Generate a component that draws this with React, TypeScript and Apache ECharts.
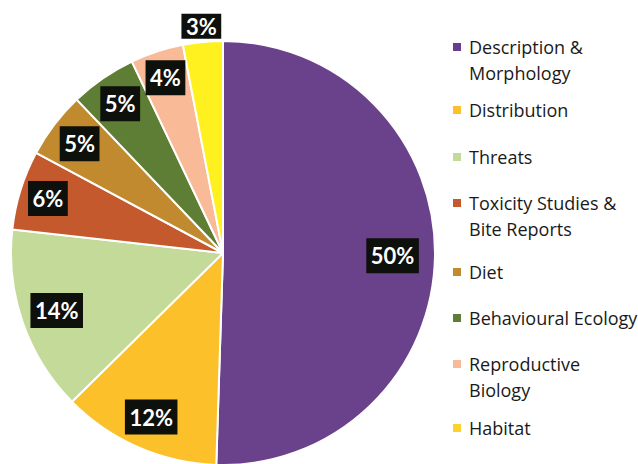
import React, { useEffect, useRef } from "react";
import * as echarts from "echarts";

// ---- data ----
const categories = [
  "Description &\nMorphology",
  "Distribution",
  "Threats",
  "Toxicity Studies &\nBite Reports",
  "Diet",
  "Behavioural Ecology",
  "Reproductive\nBiology",
  "Habitat",
];
const percentValues = [50, 12, 14, 6, 5, 5, 4, 3];

// ---- styles ----
const sliceColors = [
  "#6a418b",
  "#fbc02a",
  "#c3da98",
  "#c4592d",
  "#c18a2f",
  "#5e7e36",
  "#f9bb97",
  "#fff01f",
];
const legendMarkerColors = [
  "#6a3d8f",
  "#fbc02a",
  "#c3da98",
  "#c4592d",
  "#c18a2f",
  "#5e7e36",
  "#f9bb97",
  "#fdd22e",
];
// vertical position (first-line centre) of each legend entry
const legendRowY = [47, 110, 157, 203, 272, 318, 364, 428];
// label distance from centre, as a fraction of the radius
const labelRadiusFrac = [0.8, 0.845, 0.83, 0.865, 0.85, 0.855, 0.87, 1.075];
const labelPadding: number[][] = [
  [6.5, 4.5], [6.5, 4.5], [6.5, 4.5], [6.5, 4.5],
  [6.5, 4.5], [6.5, 4.5], [6.5, 4.5], [1.5, 4.5],
];

const CX = 223;
const CY = 253;
const R = 212;
const LH = 25.5;

export default function App() {
  const ref = useRef<HTMLDivElement>(null);

  useEffect(() => {
    if (!ref.current) return;
    const chart = echarts.init(ref.current, undefined, { renderer: "svg" });

    const total = percentValues.reduce((a, b) => a + b, 0);
    const mids: number[] = [];
    let acc = 0;
    percentValues.forEach((v) => {
      mids.push(((acc + v / 2) / total) * Math.PI * 2);
      acc += v;
    });

    const FONT = "'Open Sans'";
    const rich: Record<string, any> = {
      t: { fontFamily: FONT, fontSize: 18, color: "#1a1a1a", lineHeight: LH },
      g: { width: 8, lineHeight: LH },
      ind: { width: 16, lineHeight: LH },
    };
    legendMarkerColors.forEach((c, i) => {
      rich["m" + i] = { width: 8, height: 8, backgroundColor: c, lineHeight: LH };
    });

    const formatter = (name: string) => {
      const i = categories.indexOf(name);
      const lines = name.split("\n");
      let s = `{m${i}| }{g| }{t|${lines[0]}}`;
      for (let k = 1; k < lines.length; k++) {
        s += `\n{ind| }{t|${lines[k]}}`;
      }
      return s;
    };

    const legends = categories.map((name, i) => ({
      orient: "vertical",
      left: 447,
      top: legendRowY[i] - LH / 2,
      padding: 0,
      itemWidth: 0,
      itemHeight: 0,
      selectedMode: false,
      data: [name],
      formatter,
      textStyle: {
        fontFamily: FONT,
        fontSize: 18,
        color: "#1a1a1a",
        lineHeight: LH,
        rich,
      },
    }));

    chart.setOption({
      animation: false,
      backgroundColor: "#ffffff",
      legend: legends,
      series: [
        {
          type: "pie",
          center: [CX, CY],
          radius: [0, R],
          startAngle: 90,
          clockwise: true,
          avoidLabelOverlap: false,
          itemStyle: { borderColor: "#ffffff", borderWidth: 2 },
          label: {
            show: true,
            position: "inside",
            formatter: "{c}%",
            color: "#ffffff",
            fontFamily: "Lato",
            fontWeight: "bold",
            fontSize: 22,
            lineHeight: 22,
            backgroundColor: "#0d100b",
          },
          labelLine: { show: false },
          emphasis: { disabled: true },
          labelLayout: (params: any) => {
            const i = params.dataIndex;
            const r = R * labelRadiusFrac[i];
            return {
              x: CX + r * Math.sin(mids[i]),
              y: CY - r * Math.cos(mids[i]),
              align: "center",
              verticalAlign: "middle",
            };
          },
          data: percentValues.map((v, i) => ({
            value: v,
            name: categories[i],
            itemStyle: { color: sliceColors[i] },
            label: { padding: labelPadding[i] },
          })),
        },
      ],
    });

    return () => chart.dispose();
  }, []);

  return (
    <div
      ref={ref}
      style={{ position: "fixed", left: 0, top: 0, width: 638, height: 464 }}
    />
  );
}
